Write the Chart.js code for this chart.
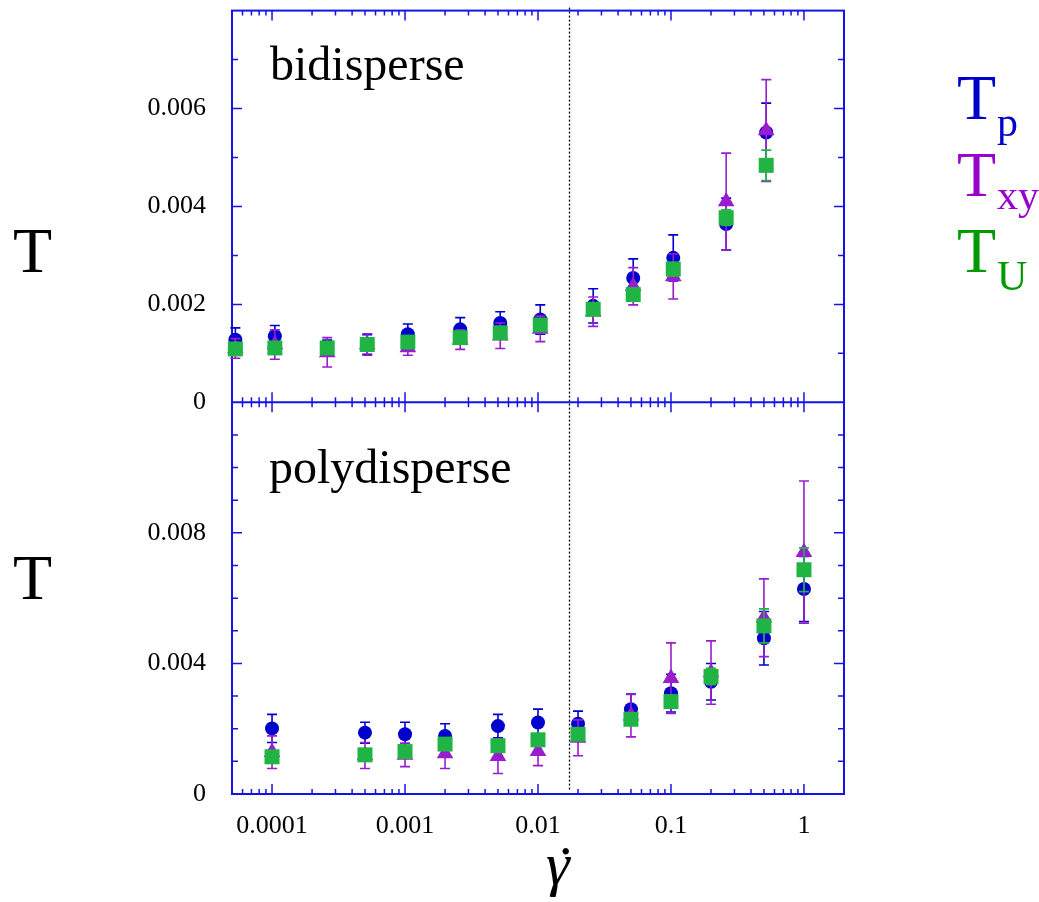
<!DOCTYPE html>
<html>
<head>
<meta charset="utf-8">
<script src="https://cdn.jsdelivr.net/npm/chart.js@4.4.1/dist/chart.umd.min.js"></script>
<style>
  html, body { margin: 0; padding: 0; background: #fff; }
  #wrap { position: relative; width: 1039px; height: 902px; }
  #wrap canvas { position: absolute; left: 0; top: 0; }
  .lbl { position: absolute; font-family: 'Liberation Serif', 'Times New Roman', serif; line-height: 1; white-space: nowrap; color: #000; }
</style>
</head>
<body>
<div id="wrap">
  <canvas id="chart" width="1039" height="902"></canvas>

  <div class="lbl" style="left:270px;top:40px;font-size:48px">bidisperse</div>
  <div class="lbl" style="left:269px;top:443px;font-size:48px">polydisperse</div>

  <div class="lbl" style="left:13px;top:219px;font-size:64px">T</div>
  <div class="lbl" style="left:13px;top:546px;font-size:64px">T</div>

  <!-- titre de l'axe x : gamma point -->
  <div class="lbl" style="left:546px;top:834px;font-size:60px;font-style:italic">γ</div>
  <div class="lbl" style="left:559px;top:809px;font-size:54px">.</div>

  <!-- légende -->
  <div class="lbl" style="left:957px;top:66px;font-size:64px;color:#0000cc">T</div>
  <div class="lbl" style="left:997px;top:101px;font-size:42px;color:#0000cc">p</div>
  <div class="lbl" style="left:957px;top:143px;font-size:64px;color:#9900cc">T</div>
  <div class="lbl" style="left:997px;top:174px;font-size:42px;color:#9900cc">xy</div>
  <div class="lbl" style="left:957px;top:219px;font-size:64px;color:#009900">T</div>
  <div class="lbl" style="left:997px;top:255px;font-size:42px;color:#009900">U</div>
</div>

<script>
// valeurs

// panneau du haut : bidisperse
const gammaBi  = [5.3e-5, 1.05e-4, 2.6e-4, 5.2e-4, 1.05e-3, 2.6e-3, 5.2e-3, 1.04e-2, 2.6e-2, 5.2e-2, 0.104, 0.26, 0.52];
const tpBi     = [0.00128, 0.00135, 0.00112, 0.00118, 0.00139, 0.00149, 0.00162, 0.00169, 0.00197, 0.00254, 0.00295, 0.00364, 0.00551];
const tpBiErr  = [0.00024, 0.00022, 0.00015, 0.00020, 0.00021, 0.00024, 0.00023, 0.00030, 0.00035, 0.00039, 0.00047, 0.00053, 0.00060];
const txyBi    = [0.00110, 0.00118, 0.00102, 0.00118, 0.00112, 0.00128, 0.00136, 0.00150, 0.00185, 0.00237, 0.00257, 0.00410, 0.00555];
const txyBiErr = [0.00020, 0.00030, 0.00030, 0.00022, 0.00016, 0.00020, 0.00026, 0.00026, 0.00030, 0.00038, 0.00046, 0.00099, 0.00104];
const tuBi     = [0.00109, 0.00111, 0.00111, 0.00118, 0.00123, 0.00132, 0.00142, 0.00158, 0.00190, 0.00220, 0.00272, 0.00377, 0.00484];
const tuBiErr  = [0.00008, 0.00008, 0.00008, 0.00009, 0.00009, 0.00010, 0.00010, 0.00011, 0.00012, 0.00013, 0.00014, 0.00016, 0.00031];

// panneau du bas : polydisperse
const gammaPoly  = [1e-4, 5e-4, 1e-3, 2e-3, 5e-3, 1e-2, 2e-2, 5e-2, 0.1, 0.2, 0.5, 1];
const tpPoly     = [0.00201, 0.00188, 0.00183, 0.00178, 0.00208, 0.00219, 0.00215, 0.00260, 0.00309, 0.00344, 0.00477, 0.00628];
const tpPolyErr  = [0.00043, 0.00032, 0.00037, 0.00037, 0.00036, 0.00041, 0.00039, 0.00046, 0.00058, 0.00056, 0.00082, 0.00100];
const txyPoly    = [0.00128, 0.00118, 0.00120, 0.00124, 0.00116, 0.00131, 0.00172, 0.00240, 0.00355, 0.00372, 0.00540, 0.00741];
const txyPolyErr = [0.00050, 0.00040, 0.00036, 0.00046, 0.00053, 0.00044, 0.00055, 0.00065, 0.00108, 0.00097, 0.00119, 0.00218];
const tuPoly     = [0.00114, 0.00120, 0.00130, 0.00153, 0.00148, 0.00166, 0.00183, 0.00229, 0.00283, 0.00360, 0.00515, 0.00687];
const tuPolyErr  = [0.00012, 0.00012, 0.00013, 0.00014, 0.00014, 0.00015, 0.00016, 0.00018, 0.00020, 0.00025, 0.00052, 0.00067];

// axes
const xTickValues = [1e-4, 1e-3, 1e-2, 1e-1, 1];
const xTickLabels = ['0.0001', '0.001', '0.01', '0.1', '1'];
const yTicksBi    = [0, 0.002, 0.004, 0.006];
const yTicksPoly  = [0, 0.004, 0.008];
const crossover   = 0.017;   // ligne pointillée

const serif = "'Liberation Serif', 'Times New Roman', serif";
const axisBlue = '#1414e6';
const cBlue = '#0000cc', cPurple = '#9a1ccf', cGreen = '#1fb443';

function pts(xs, ys) { return xs.map((x, i) => ({ x: x, y: ys[i] })); }

function serie(xs, ys, errs, axis, color, style, r, order) {
  return {
    data: pts(xs, ys),
    errors: errs,
    yAxisID: axis,
    backgroundColor: color,
    borderColor: color,
    borderWidth: 0,
    pointStyle: style,
    pointRadius: r,
    pointHoverRadius: r,
    showLine: false,
    clip: false,
    order: order,
  };
}

// barres d'erreur, dessinées juste avant les marqueurs de chaque série
const errorBars = {
  id: 'errorBars',
  beforeDatasetDraw(chart, args) {
    const ds = chart.data.datasets[args.index];
    if (!ds.errors) return;
    const ys = chart.scales[ds.yAxisID];
    const ctx = chart.ctx;
    ctx.save();
    ctx.strokeStyle = ds.borderColor;
    ctx.lineWidth = 1.6;
    args.meta.data.forEach((p, i) => {
      const v = ds.data[i].y, e = ds.errors[i];
      const hi = ys.getPixelForValue(v + e), lo = ys.getPixelForValue(v - e);
      ctx.beginPath();
      ctx.moveTo(p.x, hi); ctx.lineTo(p.x, lo);
      ctx.moveTo(p.x - 5, hi); ctx.lineTo(p.x + 5, hi);
      ctx.moveTo(p.x - 5, lo); ctx.lineTo(p.x + 5, lo);
      ctx.stroke();
    });
    ctx.restore();
  }
};

// cadre bleu, graduations vers l'intérieur et ligne pointillée
const frame = {
  id: 'frame',
  beforeDatasetsDraw(chart) {
    const { ctx, chartArea: a, scales } = chart;
    const sx = scales.x, yb = scales.yBi, yp = scales.yPoly;
    const mid = yb.bottom;
    ctx.save();

    ctx.setLineDash([2, 2]);
    ctx.strokeStyle = '#000';
    ctx.lineWidth = 1.3;
    const cx = Math.round(sx.getPixelForValue(crossover)) + 0.5;
    ctx.beginPath(); ctx.moveTo(cx, a.top - 3); ctx.lineTo(cx, a.bottom - 3); ctx.stroke();
    ctx.setLineDash([]);

    ctx.strokeStyle = axisBlue;
    ctx.lineWidth = 2;
    ctx.strokeRect(a.left, a.top, a.right - a.left, a.bottom - a.top);
    ctx.beginPath(); ctx.moveTo(a.left, mid); ctx.lineTo(a.right, mid); ctx.stroke();

    ctx.lineWidth = 1.5;
    ctx.beginPath();
    for (let d = -5; d <= 0; d++) {
      for (let k = 1; k <= 9; k++) {
        const v = k * Math.pow(10, d);
        if (v < sx.min || v > sx.max) continue;
        const px = sx.getPixelForValue(v);
        const len = k === 1 ? 10 : 5;
        ctx.moveTo(px, a.top); ctx.lineTo(px, a.top + len);
        ctx.moveTo(px, mid); ctx.lineTo(px, mid - len);
        ctx.moveTo(px, mid); ctx.lineTo(px, mid + len);
        ctx.moveTo(px, a.bottom); ctx.lineTo(px, a.bottom - len);
      }
    }
    [[yb, 0.002], [yp, 0.004]].forEach(([ys, major]) => {
      for (let v = 0.001; v < ys.max - 1e-9; v += 0.001) {
        const py = ys.getPixelForValue(v);
        const isMajor = Math.abs(v / major - Math.round(v / major)) < 1e-6;
        const len = isMajor ? 10 : 6;
        ctx.moveTo(a.left, py); ctx.lineTo(a.left + len, py);
        ctx.moveTo(a.right, py); ctx.lineTo(a.right - len, py);
      }
    });
    ctx.stroke();
    ctx.restore();
  }
};

const tickFont = { family: serif, size: 26 };

function yAxis(ticks, max) {
  return {
    type: 'linear',
    position: 'left',
    stack: 'panels',
    stackWeight: 1,
    min: 0,
    max: max,
    grid: { display: false, drawTicks: false },
    border: { display: false },
    afterBuildTicks: s => { s.ticks = ticks.map(v => ({ value: v })); },
    afterFit: s => { s.width = 232; s.paddingTop = 0; s.paddingBottom = 0; },
    ticks: {
      padding: 26,
      color: '#000',
      font: tickFont,
      callback: v => v === 0 ? '0' : v.toFixed(3),
    },
  };
}

new Chart(document.getElementById('chart'), {
  type: 'scatter',
  data: {
    datasets: [
      serie(gammaBi, tpBi, tpBiErr, 'yBi', cBlue, 'circle', 7, 2),
      serie(gammaBi, txyBi, txyBiErr, 'yBi', cPurple, 'triangle', 9.6, 1),
      serie(gammaBi, tuBi, tuBiErr, 'yBi', cGreen, 'rect', 10.6, 0),
      serie(gammaPoly, tpPoly, tpPolyErr, 'yPoly', cBlue, 'circle', 7, 2),
      serie(gammaPoly, txyPoly, txyPolyErr, 'yPoly', cPurple, 'triangle', 9.6, 1),
      serie(gammaPoly, tuPoly, tuPolyErr, 'yPoly', cGreen, 'rect', 10.6, 0),
    ]
  },
  options: {
    responsive: false,
    animation: false,
    events: [],
    layout: { padding: { left: 0, right: 195, top: 10, bottom: 0 } },
    plugins: {
      legend: { display: false },
      tooltip: { enabled: false },
    },
    scales: {
      x: {
        type: 'logarithmic',
        position: 'bottom',
        min: 5e-5,
        max: 2,
        grid: { display: false, drawTicks: false },
        border: { display: false },
        afterBuildTicks: s => { s.ticks = xTickValues.map(v => ({ value: v })); },
        afterFit: s => { s.height = 108; s.paddingLeft = 0; s.paddingRight = 0; },
        ticks: {
          autoSkip: false,
          maxRotation: 0,
          padding: 17,
          color: '#000',
          font: tickFont,
          callback: (v, i) => xTickLabels[i],
        },
      },
      // l'axe déclaré en dernier se place en haut de la pile
      yPoly: yAxis(yTicksPoly, 0.012),
      yBi: yAxis(yTicksBi, 0.008),
    }
  },
  plugins: [frame, errorBars]
});
</script>
</body>
</html>
